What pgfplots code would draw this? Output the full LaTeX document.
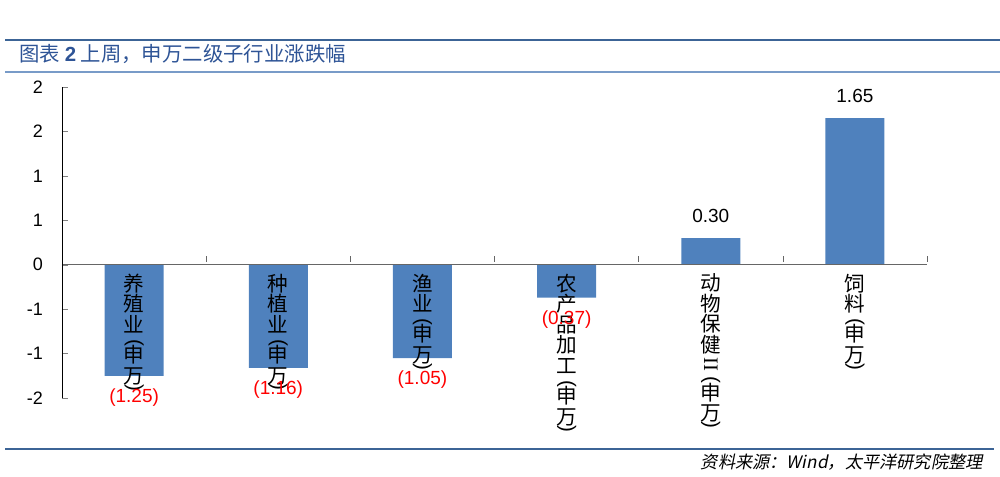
\documentclass[border=0pt]{standalone}
\usepackage{fontspec}
\setmainfont{Liberation Sans}
\newfontfamily\cjk{Noto Sans CJK SC}
\newfontfamily\cjkit[FakeSlant=0.2]{Noto Sans CJK SC}
\newfontfamily\serifii{Liberation Serif}
\usepackage{graphicx}
\usepackage{pgfplots}
\pgfplotsset{compat=1.18}
\definecolor{barblue}{RGB}{79,129,189}
\definecolor{titleblue}{RGB}{46,84,150}
\definecolor{rulea}{RGB}{60,100,150}
\definecolor{ruleb}{RGB}{120,155,200}
\definecolor{negred}{RGB}{255,0,0}
% rotated parentheses for vertical labels
\newcommand{\vl}{\rotatebox[origin=c]{-90}{\rmfamily(}}
\newcommand{\vr}{\rotatebox[origin=c]{-90}{\rmfamily)}}
\newcommand{\vii}{\rotatebox[origin=c]{-90}{\serifii II}}

\begin{document}
\begin{tikzpicture}
\path[use as bounding box] (0,0) rectangle (500pt,-238pt);
% header and footer rules
\draw[rulea, line width=0.7pt] (2.5pt,-20pt) -- (500pt,-20pt);
\draw[ruleb, line width=0.7pt] (2.5pt,-36pt) -- (500pt,-36pt);
\node[anchor=base west, inner sep=0, text=titleblue, font=\cjk\fontsize{10.2}{11}\selectfont]
  at (9.5pt,-31pt) {图表\ \textbf{\rmfamily 2}\ 上周，申万二级子行业涨跌幅};
\draw[rulea, line width=0.7pt] (2.5pt,-224.5pt) -- (497pt,-224.5pt);
\node[anchor=base east, inner sep=0, font=\cjkit\fontsize{8.6}{9}\selectfont]
  at (491.5pt,-234pt) {资料来源：Wind，太平洋研究院整理};

\begin{axis}[
  at={(31pt,-199pt)}, anchor=south west,
  scale only axis, width=432.5pt, height=155.5pt,
  xmin=0, xmax=6, ymin=-1.5, ymax=2,
  axis x line=middle, axis y line=left,
  x axis line style={draw=black!60, -},
  y axis line style={draw=black, -},
  axis on top,
  tick align=inside,
  major tick length=3pt,
  ytick={-1.5,-1,-0.5,0,0.5,1,1.5,2},
  yticklabels={-2,-1,-1,0,1,1,2,2},
  yticklabel style={font=\fontsize{9}{10}\selectfont, anchor=east, xshift=-6pt},
  xtick={0.5,1.5,2.5,3.5,4.5,5.5},
  xtick style={draw=none},
  xticklabels={
    {养\\殖\\业\\[-2.5pt]\vl\\[-3pt]申\\万\\[-5.5pt]\vr},
    {种\\植\\业\\[-2.5pt]\vl\\[-3pt]申\\万\\[-5.5pt]\vr},
    {渔\\业\\[-2.5pt]\vl\\[-3pt]申\\万\\[-5.5pt]\vr},
    {农\\产\\品\\加\\工\\[-2.5pt]\vl\\[-3pt]申\\万\\[-5.5pt]\vr},
    {动\\物\\保\\健\\[-1pt]\vii\\[-3pt]\vl\\[-3pt]申\\万\\[-5.5pt]\vr},
    {饲\\料\\[-2.5pt]\vl\\[-3pt]申\\万\\[-5.5pt]\vr}},
  xticklabel style={font=\cjk\fontsize{10.3}{10.3}\selectfont, align=center, anchor=north, yshift=-1pt},
  extra x ticks={1,2,3,4,5,6},
  extra x tick labels={},
  extra x tick style={xtick style={draw=black!60, yshift=1.5pt}},
  point meta=explicit symbolic,
  bar width=29.5pt,
]
\addplot[ybar, bar shift=0pt, fill=barblue, draw=none,
  nodes near coords={(\pgfplotspointmeta)},
  nodes near coords style={font=\fontsize{9.5}{10}\selectfont, text=negred, anchor=center, yshift=-11pt}]
  coordinates {(0.5,-1.25) [1.25] (1.5,-1.16) [1.16] (2.5,-1.05) [1.05] (3.5,-0.37) [0.37]};
\addplot[ybar, bar shift=0pt, fill=barblue, draw=none,
  nodes near coords,
  nodes near coords style={font=\fontsize{9.5}{10}\selectfont, text=black, anchor=center, yshift=11pt}]
  coordinates {(4.5,0.30) [0.30] (5.5,1.65) [1.65]};
\end{axis}
\end{tikzpicture}
\end{document}
